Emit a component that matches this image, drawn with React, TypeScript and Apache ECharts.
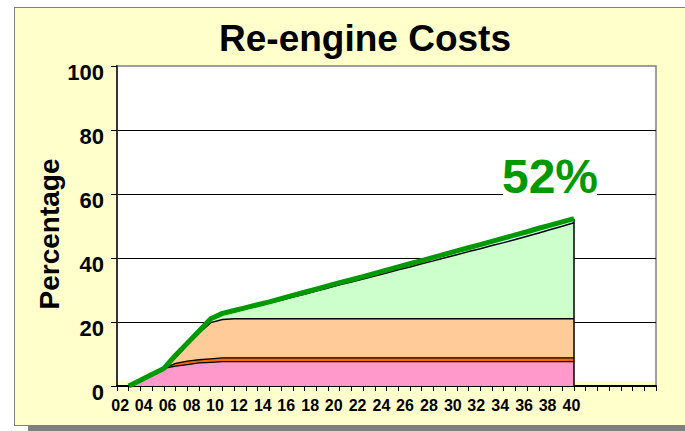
import React, { useEffect, useRef } from "react";
import * as echarts from "echarts";

const years = [
  "01","02","03","04","05","06","07","08","09","10",
  "11","12","13","14","15","16","17","18","19","20",
  "21","22","23","24","25","26","27","28","29","30",
  "31","32","33","34","35","36","37","38","39","40",
  "41","42","43","44","45","46","47",
];

// cumulative tops of each layer (percentage), years 01..40
const totalLine = ["-", 0, 1.8, 3.7, 5.5, 9.6, 13.4, 17.2, 21.0, 22.7,
  23.6, 24.5, 25.4, 26.3, 27.3, 28.3, 29.3, 30.3, 31.3, 32.3,
  33.2, 34.2, 35.2, 36.2, 37.2, 38.2, 39.2, 40.2, 41.2, 42.2,
  43.2, 44.2, 45.2, 46.2, 47.2, 48.2, 49.3, 50.3, 51.3, 52.3];
const greenTop = ["-", 0, 1.8, 3.7, 5.5, 9.0, 12.8, 16.5, 20.6, 22.3,
  23.2, 24.1, 25.0, 25.9, 26.8, 27.8, 28.7, 29.7, 30.6, 31.6,
  32.5, 33.4, 34.4, 35.3, 36.3, 37.2, 38.2, 39.1, 40.1, 41.0,
  42.0, 42.9, 43.9, 44.8, 45.8, 46.8, 47.8, 48.9, 49.9, 51.0];
const peachTop = ["-", 0, 1.8, 3.7, 5.5, 9.0, 12.8, 16.5, 19.8, 20.8,
  21.0, 21.0, 21.0, 21.0, 21.0, 21.0, 21.0, 21.0, 21.0, 21.0,
  21.0, 21.0, 21.0, 21.0, 21.0, 21.0, 21.0, 21.0, 21.0, 21.0,
  21.0, 21.0, 21.0, 21.0, 21.0, 21.0, 21.0, 21.0, 21.0, 21.0];
const orangeTop = ["-", 0, 1.8, 3.7, 5.5, 7.1, 7.8, 8.2, 8.5, 8.8,
  8.8, 8.8, 8.8, 8.8, 8.8, 8.8, 8.8, 8.8, 8.8, 8.8,
  8.8, 8.8, 8.8, 8.8, 8.8, 8.8, 8.8, 8.8, 8.8, 8.8,
  8.8, 8.8, 8.8, 8.8, 8.8, 8.8, 8.8, 8.8, 8.8, 8.8];
const pinkTop = ["-", 0, 1.8, 3.7, 5.5, 6.2, 6.7, 7.2, 7.4, 7.6,
  7.6, 7.6, 7.6, 7.6, 7.6, 7.6, 7.6, 7.6, 7.6, 7.6,
  7.6, 7.6, 7.6, 7.6, 7.6, 7.6, 7.6, 7.6, 7.6, 7.6,
  7.6, 7.6, 7.6, 7.6, 7.6, 7.6, 7.6, 7.6, 7.6, 7.6];

const yTicks = [0, 20, 40, 60, 80, 100];
const lastLabel = "40";
const title = "Re-engine Costs";
const yName = "Percentage";
const callout = "52%";
const font = "'Liberation Sans', Arial, sans-serif";

function areaSeries(name: string, data: any[], fill: string, edge: string, edgeW: number) {
  return {
    name,
    type: "line",
    data,
    symbol: "none",
    smooth: false,
    lineStyle: { color: edge, width: edgeW },
    areaStyle: { color: fill, opacity: 1 },
    itemStyle: { color: fill },
  };
}

export default function App() {
  const ref = useRef<HTMLDivElement>(null);
  useEffect(() => {
    if (!ref.current) return;
    const chart = echarts.init(ref.current, null, { renderer: "svg" });
    const lastIdx = years.indexOf(lastLabel);
    // labels in the reference sit slightly left of their ticks (more so on the left)
    const rich: any = {};
    for (let i = 1; i <= lastIdx; i += 2) {
      const shift = 8.7 - ((i - 1) / (lastIdx - 1)) * 6.2;
      rich["l" + i] = {
        fontWeight: "bold",
        fontSize: 16,
        fontFamily: font,
        color: "#000",
        padding: [0, Math.round(shift * 2), 0, 0],
      };
    }
    const option: any = {
      animation: false,
      textStyle: { fontFamily: font },
      grid: {
        left: 117,
        top: 66,
        width: 539,
        height: 320,
        show: true,
        backgroundColor: "#ffffff",
        borderColor: "#808080",
        borderWidth: 1.5,
      },
      xAxis: {
        type: "category",
        data: years,
        boundaryGap: false,
        axisLine: { lineStyle: { color: "#000", width: 2 } },
        axisTick: { show: true, interval: 0, length: 5, lineStyle: { color: "#000", width: 1 } },
        axisLabel: {
          interval: (i: number) => i % 2 === 1 && i <= lastIdx,
          formatter: (v: string, i: number) => `{l${i}|${v}}`,
          rich,
          color: "#000",
          fontWeight: "bold",
          fontSize: 16,
          fontFamily: font,
          margin: 11,
        },
        splitLine: { show: false },
      },
      yAxis: {
        type: "value",
        min: yTicks[0],
        max: yTicks[yTicks.length - 1],
        interval: 20,
        axisLine: { show: true, lineStyle: { color: "#333", width: 2 } },
        axisTick: { show: true, length: 6, lineStyle: { color: "#000", width: 1 } },
        axisLabel: {
          color: "#000",
          fontWeight: "bold",
          fontSize: 22,
          fontFamily: font,
          margin: 13,
          verticalAlign: "top",
          lineHeight: 12,
        },
        splitLine: { show: true, showMaxLine: false, lineStyle: { color: "#000", width: 1 } },
      },
      series: [
        {
          ...areaSeries("cyan", totalLine, "#CCFFFF", "#CCFFFF", 0),
          markLine: {
            silent: true,
            symbol: "none",
            label: { show: false },
            lineStyle: { color: "#000", width: 1.5, type: "solid" },
            data: [[{ coord: [lastIdx, 0] }, { coord: [lastIdx, totalLine[lastIdx]] }]],
          },
        },
        areaSeries("lightgreen", greenTop, "#CCFFCC", "#000", 1.5),
        areaSeries("peach", peachTop, "#FFCC99", "#000", 1.5),
        areaSeries("orange", orangeTop, "#FF6600", "#000", 1.3),
        areaSeries("pink", pinkTop, "#FF99CC", "#000", 1.3),
        {
          name: "total",
          type: "line",
          data: totalLine,
          symbol: "none",
          lineStyle: { color: "#009900", width: 5 },
          itemStyle: { color: "#009900" },
          z: 5,
        },
      ],
      graphic: [
        { type: "rect", z: 1, silent: true, shape: { x: 118, y: 381, width: 11, height: 4 }, style: { fill: "#FFFFCC" } },
        { type: "rect", z: 1, silent: true, shape: { x: 573, y: 381, width: 82, height: 4 }, style: { fill: "#FFFFCC" } },
        { type: "rect", z: 10, silent: true, shape: { x: 503, y: 189, width: 94, height: 9 }, style: { fill: "#ffffff" } },
        {
          type: "text", z: 11, silent: true, x: 550, y: 176,
          style: { text: callout, fill: "#009900", font: `bold 48px ${font}`, textAlign: "center", textVerticalAlign: "middle" },
        },
        {
          type: "text", z: 11, silent: true, x: 365, y: 38,
          style: { text: title, fill: "#000", font: `bold 37px ${font}`, textAlign: "center", textVerticalAlign: "middle" },
        },
        {
          type: "text", z: 11, silent: true, x: 49, y: 234, rotation: Math.PI / 2,
          style: { text: yName, fill: "#000", font: `bold 28px ${font}`, textAlign: "center", textVerticalAlign: "middle" },
        },
      ],
    };
    chart.setOption(option);
    return () => chart.dispose();
  }, []);

  return (
    <div style={{ position: "fixed", left: 0, top: 0, width: 685, height: 431, background: "#ffffff", overflow: "hidden" }}>
      <div style={{ position: "absolute", left: 28, top: 426, width: 700, height: 10, background: "#808080" }} />
      <div style={{ position: "absolute", left: 14, top: 7, width: 700, height: 419, boxSizing: "border-box", background: "#FFFFCC", border: "1px solid #808080" }} />
      <div ref={ref} style={{ position: "absolute", left: 0, top: 0, width: 685, height: 431 }} />
    </div>
  );
}
